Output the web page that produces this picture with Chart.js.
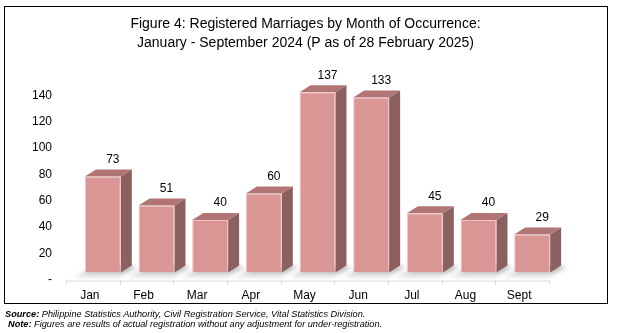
<!DOCTYPE html>
<html>
<head>
<meta charset="utf-8">
<script src="https://cdn.jsdelivr.net/npm/chart.js@4/dist/chart.umd.min.js"></script>
<style>
  html, body { margin: 0; padding: 0; background: #fff; }
  #wrap { position: relative; width: 618px; height: 333px; overflow: hidden; }
  #box { position: absolute; left: 4px; top: 6px; width: 604px; height: 298px; border: 1px solid #000; box-sizing: border-box; }
  canvas { position: absolute; left: 0; top: 0; }
  .note { position: absolute; font-family: "Liberation Sans", Arial, sans-serif; font-style: italic; font-size: 9.2px; color: #000; white-space: nowrap; }
</style>
</head>
<body>
<div id="wrap">
  <div id="box"></div>
  <canvas id="marriagesChart" width="618" height="333"></canvas>
  <div class="note" style="left:5px; top:309px;"><b>Source:</b> Philippine Statistics Authority, Civil Registration Service, Vital Statistics Division.</div>
  <div class="note" style="left:8px; top:319px;"><b>Note:</b> Figures are results of actual registration without any adjustment for under-registration.</div>
</div>
<script>
// datos del grafico
const months = ['Jan', 'Feb', 'Mar', 'Apr', 'May', 'Jun', 'Jul', 'Aug', 'Sept'];
const marriages = [73, 51, 40, 60, 137, 133, 45, 40, 29];
const yTicks = [0, 20, 40, 60, 80, 100, 120, 140];
const titleLines = ['Figure 4: Registered Marriages by Month of Occurrence:', 'January - September 2024 (P as of 28 February 2025)'];

// profundidad del efecto 3D
const DX = 11, DY = 7;

const colors = {
    front: 'rgb(218,150,149)',
    top: 'rgb(176,117,116)',
    side: 'rgb(139,96,95)',
    edge: 'rgba(240,190,188,0.9)'
};

const bars3d = {
    id: 'bars3d',
    beforeDatasetsDraw(chart) {
        const ctx = chart.ctx;
        const meta = chart.getDatasetMeta(0);
        ctx.save();
        // sombra en el piso
        ctx.filter = 'blur(2px)';
        meta.data.forEach(bar => {
            const l = bar.x - bar.width / 2, r = bar.x + bar.width / 2, b = bar.base;
            const g = ctx.createLinearGradient(0, b - DY, 0, b + 5);
            g.addColorStop(0, 'rgba(80,80,80,0.6)');
            g.addColorStop(1, 'rgba(160,160,160,0.2)');
            ctx.fillStyle = g;
            ctx.beginPath();
            ctx.moveTo(l - 12, b + 5);
            ctx.lineTo(r - 2, b + 5);
            ctx.lineTo(r + DX + 5, b - DY + 1);
            ctx.lineTo(l + DX, b - DY + 1);
            ctx.closePath();
            ctx.fill();
        });
        ctx.filter = 'none';

        // linea del piso con marcas
        const xs = chart.scales.x, area = chart.chartArea;
        const step = xs.width / months.length;
        const fy = area.bottom + DY + 1;
        ctx.strokeStyle = '#d9d9d9';
        ctx.lineWidth = 1;
        ctx.beginPath();
        ctx.moveTo(area.left - 10, fy + 0.5);
        ctx.lineTo(area.right - 10, fy + 0.5);
        for (let i = 0; i <= months.length; i++) {
            const x = Math.round(area.left - 10 + i * step) + 0.5;
            ctx.moveTo(x, fy);
            ctx.lineTo(x, fy + 4);
        }
        ctx.stroke();

        // caras superior y lateral
        meta.data.forEach(bar => {
            const l = bar.x - bar.width / 2, r = bar.x + bar.width / 2, t = bar.y, b = bar.base;
            ctx.fillStyle = colors.side;
            ctx.beginPath();
            ctx.moveTo(r, t);
            ctx.lineTo(r + DX, t - DY);
            ctx.lineTo(r + DX, b - DY);
            ctx.lineTo(r, b);
            ctx.closePath();
            ctx.fill();
            ctx.fillStyle = colors.top;
            ctx.beginPath();
            ctx.moveTo(l, t);
            ctx.lineTo(l + DX, t - DY);
            ctx.lineTo(r + DX, t - DY);
            ctx.lineTo(r, t);
            ctx.closePath();
            ctx.fill();
        });
        ctx.restore();
    },
    afterDatasetsDraw(chart) {
        const ctx = chart.ctx;
        const meta = chart.getDatasetMeta(0);
        ctx.save();
        ctx.font = '12px "Liberation Sans", Arial, sans-serif';
        ctx.fillStyle = '#000';
        ctx.textAlign = 'center';
        ctx.textBaseline = 'middle';
        meta.data.forEach((bar, i) => {
            ctx.fillText(String(marriages[i]), bar.x + DX - 1, bar.y - DY - 10);
        });
        ctx.restore();
    }
};

const canvas = document.getElementById('marriagesChart');
new Chart(canvas.getContext('2d'), {
    type: 'bar',
    data: {
        labels: months,
        datasets: [{
            data: marriages,
            backgroundColor: colors.front,
            borderColor: colors.edge,
            borderWidth: 1,
            categoryPercentage: 1,
            barPercentage: 0.67
        }]
    },
    options: {
        responsive: false,
        animation: false,
        layout: { padding: { left: 32, right: 39, top: 0, bottom: 14 } },
        plugins: {
            legend: { display: false },
            tooltip: { enabled: false },
            title: {
                display: true,
                text: titleLines,
                color: '#000',
                font: { family: '"Liberation Sans", Arial, sans-serif', size: 14, weight: 'normal', lineHeight: 1.36 },
                padding: { top: 15, bottom: 22 }
            }
        },
        scales: {
            x: {
                grid: { display: false, drawTicks: false },
                border: { display: false },
                ticks: {
                    color: '#000',
                    padding: 16,
                    labelOffset: -13,
                    font: { family: '"Liberation Sans", Arial, sans-serif', size: 12 }
                }
            },
            y: {
                min: 0,
                max: 150,
                afterBuildTicks: s => { s.ticks = yTicks.map(v => ({ value: v })); },
                afterFit: s => { s.width = 44; },
                grid: { display: false, drawTicks: false },
                border: { display: false },
                ticks: {
                    color: '#000',
                    padding: 24,
                    labelOffset: 7,
                    font: { family: '"Liberation Sans", Arial, sans-serif', size: 12 },
                    callback: v => (v === 0 ? '-' : v)
                }
            },
            // eje vacio a la derecha, solo reserva espacio para la profundidad 3D
            yRight: {
                position: 'right',
                grid: { display: false, drawTicks: false },
                border: { display: false },
                ticks: { display: false },
                afterFit: s => { s.width = 20; }
            }
        }
    },
    plugins: [bars3d]
});
</script>
</body>
</html>
